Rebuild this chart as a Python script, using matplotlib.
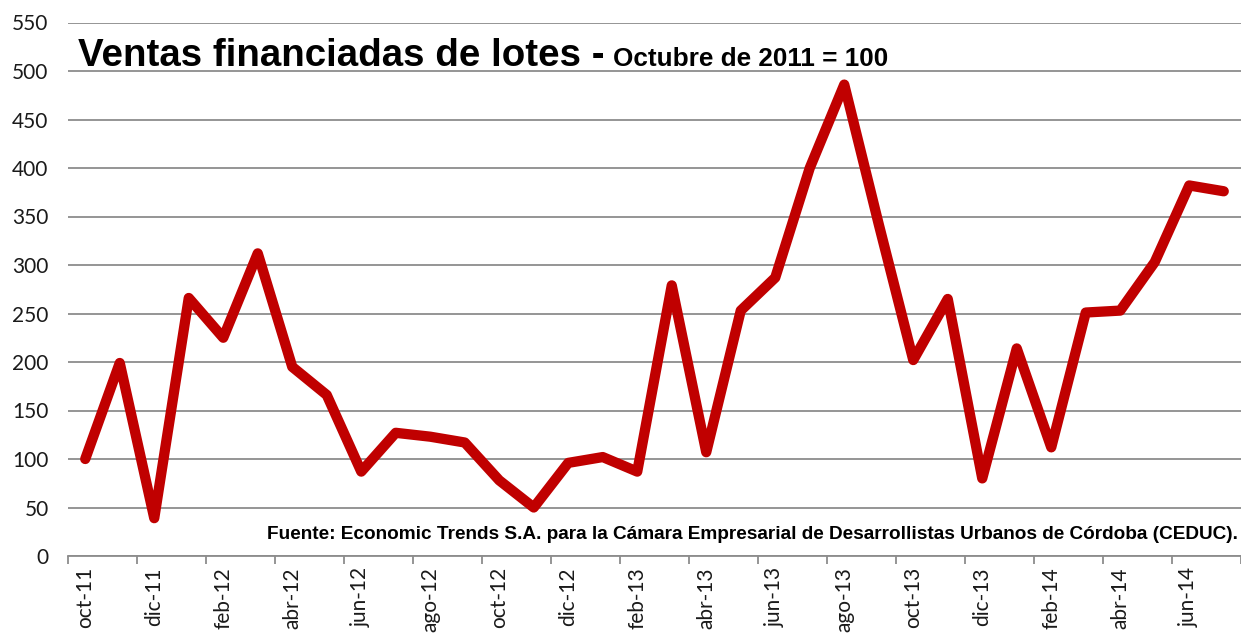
import matplotlib
matplotlib.use("Agg")
import matplotlib.pyplot as plt
import numpy as np

months = ["oct-11", "nov-11", "dic-11", "ene-12", "feb-12", "mar-12", "abr-12", "may-12",
          "jun-12", "jul-12", "ago-12", "sep-12", "oct-12", "nov-12", "dic-12", "ene-13",
          "feb-13", "mar-13", "abr-13", "may-13", "jun-13", "jul-13", "ago-13", "sep-13",
          "oct-13", "nov-13", "dic-13", "ene-14", "feb-14", "mar-14", "abr-14", "may-14",
          "jun-14", "jul-14"]
values = [100, 199, 39, 266, 225, 312, 195, 166,
          87, 127, 123, 117, 78, 50, 96, 102,
          87, 279, 107, 253, 287, 400, 486, 342,
          202, 265, 80, 214, 112, 251, 253, 303,
          382, 376]
yticks = [0, 50, 100, 150, 200, 250, 300, 350, 400, 450, 500, 550]

title_main = "Ventas financiadas de lotes - "
title_sub = "Octubre de 2011 = 100"
source = "Fuente: Economic Trends S.A. para la Cámara Empresarial de Desarrollistas Urbanos de Córdoba (CEDUC)."

W, H = 1241, 636
fig = plt.figure(figsize=(W / 100, H / 100), dpi=100)
ax = fig.add_axes([68 / W, 1 - 556 / H, (1241 - 68) / W, (556 - 22.5) / H])

x = np.arange(len(months))
ax.plot(x, values, color="#C00000", lw=7.4, solid_joinstyle="round",
        solid_capstyle="round", zorder=3, clip_on=False)

ax.set_xlim(-0.5, len(months) - 0.5)
ax.set_ylim(0, 550)
ax.set_yticks(yticks)
ax.yaxis.grid(True, color="#8c8c8c", lw=1.3)
ax.set_axisbelow(True)
for s in ["top", "right", "left"]:
    ax.spines[s].set_visible(False)
ax.spines["bottom"].set_color("#8c8c8c")
ax.spines["bottom"].set_linewidth(1.3)

ax.set_xticks(x[::2])
ax.set_xticklabels(months[::2], rotation=90, va="top", ha="center")
ax.set_xticks(np.arange(-0.5, len(months), 2), minor=True)
ax.tick_params(axis="x", which="major", length=0, pad=8, labelsize=15)
ax.tick_params(axis="x", which="minor", length=6, width=1.3, color="#8c8c8c")
ax.tick_params(axis="y", length=0, pad=14, labelsize=15)
for lab in ax.get_xticklabels() + ax.get_yticklabels():
    lab.set_fontfamily("Lato")
    lab.set_color("#1a1a1a")

fig.text(78 / W, 1 - 66 / H, title_main, fontsize=27.7, fontweight="bold",
         family="Liberation Sans", va="baseline", ha="left")
fig.text(613 / W, 1 - 66 / H, title_sub, fontsize=18.8, fontweight="bold",
         family="Liberation Sans", va="baseline", ha="left")

fig.text(1238 / W, 1 - 539 / H, source, fontsize=13.7, fontweight="bold",
         family="Liberation Sans", va="baseline", ha="right")

fig.savefig("out.png", dpi=100)
